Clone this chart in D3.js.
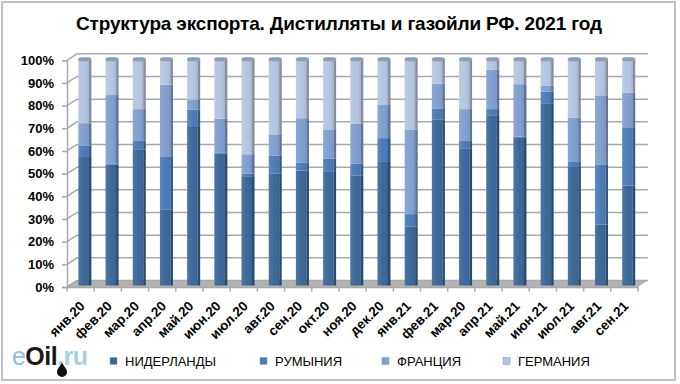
<!doctype html>
<html lang="ru">
<head>
    <title>Структура экспорта</title>
    <meta charset="utf-8"/>
    <script src="https://d3js.org/d3.v7.min.js"></script>
    <style>
        body { margin: 0; padding: 0; background: #fff; }
        svg { display: block; font-family: 'Liberation Sans', sans-serif; }
    </style>
</head>
<body>
<script>
    // подпись 'мар.20' повторяется (так на оригинале), поэтому шкала идёт по индексам
    const months = ['янв.20', 'фев.20', 'мар.20', 'апр.20', 'май.20', 'июн.20', 'июл.20', 'авг.20', 'сен.20', 'окт.20', 'ноя.20',
        'дек.20', 'янв.21', 'фев.21', 'мар.20', 'апр.21', 'май.21', 'июн.21', 'июл.21', 'авг.21', 'сен.21']
    const countries = ['НИДЕРЛАНДЫ', 'РУМЫНИЯ', 'ФРАНЦИЯ', 'ГЕРМАНИЯ']
    const colors = ['#3a6698', '#4a7ab7', '#7f9fcf', '#b5c4e0']
    const yTicks = [0, 10, 20, 30, 40, 50, 60, 70, 80, 90, 100]

    // доли по странам, %
    const netherlands = [56.7, 53.3, 60.1, 33.6, 70.3, 58.2, 47.9, 49.3, 50.7, 50.1, 48.4, 54.5, 25.9, 73.3, 60.3, 75.1, 65.4, 80.4, 52.3, 26.8, 44.1]
    const romania = [4.9, 0.5, 3.9, 23.1, 7.3, 0.3, 1.5, 7.9, 3.6, 5.9, 5.4, 10.5, 5.6, 4.6, 3.7, 2.7, 0.2, 5.1, 2.5, 26.4, 25.4]
    const france = [10, 30.2, 13.8, 31.9, 4.4, 15.1, 8.5, 9.5, 19.5, 12.6, 17.5, 14.6, 37.3, 11.1, 13.8, 17.4, 23.2, 2.7, 19.2, 30.7, 15.6]
    const germany = [28.4, 16, 22.2, 11.4, 18, 26.4, 42.1, 33.3, 26.2, 31.4, 28.7, 20.4, 31.2, 11, 22.2, 4.8, 11.2, 11.8, 26, 16.1, 14.9]

    const width = 680, height = 384
    const depthX = 10, depthY = 6.5   // сдвиг задней стенки

    const svg = d3.select('body').append('svg')
        .attr('width', width)
        .attr('height', height)

    // рамка
    svg.append('rect')
        .attr('x', 2).attr('y', 2)
        .attr('width', 673).attr('height', 378)
        .attr('fill', '#fff')
        .attr('stroke', '#bfbfbf')
        .attr('stroke-width', 2)

    svg.append('text')
        .attr('x', 339).attr('y', 30)
        .attr('text-anchor', 'middle')
        .attr('font-size', 19)
        .attr('font-weight', 'bold')
        .attr('textLength', 526)
        .text('Структура экспорта. Дистилляты и газойли РФ. 2021 год')

    const x = d3.scaleBand().domain(d3.range(months.length)).range([67, 638])
    const y = d3.scaleLinear().domain([0, 100]).range([287, 60.3])

    // пол и сетка
    const floor = d3.path()
    floor.moveTo(x.range()[0], y(0))
    floor.lineTo(x.range()[0] + depthX, y(0) - depthY)
    floor.lineTo(x.range()[1] + depthX, y(0) - depthY)
    floor.lineTo(x.range()[1], y(0))
    floor.closePath()
    svg.append('path').attr('d', floor).attr('fill', '#b3b3b3')

    svg.append('g').selectAll('path')
        .data(yTicks)
        .join('path')
        .attr('fill', 'none')
        .attr('stroke', '#a9a9a9')
        .attr('stroke-width', 1.5)
        .attr('d', d => {
            const p = d3.path()
            p.moveTo(x.range()[0], y(d))
            p.lineTo(x.range()[0] + depthX, y(d) - depthY)
            p.lineTo(x.range()[1] + depthX, y(d) - depthY)
            return p
        })

    // градиент передней грани столбика
    const grad = svg.append('defs').append('linearGradient').attr('id', 'shine')
    grad.append('stop').attr('offset', '0%').attr('stop-color', '#fff').attr('stop-opacity', 0.1)
    grad.append('stop').attr('offset', '60%').attr('stop-color', '#fff').attr('stop-opacity', 0)
    grad.append('stop').attr('offset', '100%').attr('stop-color', '#000').attr('stop-opacity', 0.1)

    const rows = months.map((m, i) => ({
        index: i,
        [countries[0]]: netherlands[i],
        [countries[1]]: romania[i],
        [countries[2]]: france[i],
        [countries[3]]: germany[i]
    }))
    const stack = d3.stack().keys(countries)(rows)

    const barW = 13, sideW = 2.5
    const barLeft = i => x(i) + x.bandwidth() / 2 - barW / 2 + 4.3
    const barShift = -1.5

    const layers = svg.append('g').selectAll('g')
        .data(stack)
        .join('g')

    layers.selectAll('rect.front')
        .data(d => d)
        .join('rect')
        .attr('class', 'front')
        .attr('x', d => barLeft(d.data.index))
        .attr('y', d => y(d[1]) + barShift)
        .attr('width', barW - sideW)
        .attr('height', d => y(d[0]) - y(d[1]))
        .attr('fill', function () { return colors[countries.indexOf(d3.select(this.parentNode).datum().key)] })

    layers.selectAll('rect.shine')
        .data(d => d)
        .join('rect')
        .attr('class', 'shine')
        .attr('x', d => barLeft(d.data.index))
        .attr('y', d => y(d[1]) + barShift)
        .attr('width', barW - sideW)
        .attr('height', d => y(d[0]) - y(d[1]))
        .attr('fill', 'url(#shine)')

    layers.selectAll('rect.side')
        .data(d => d)
        .join('rect')
        .attr('class', 'side')
        .attr('x', d => barLeft(d.data.index) + barW - sideW)
        .attr('y', d => y(d[1]) + barShift)
        .attr('width', sideW)
        .attr('height', d => y(d[0]) - y(d[1]))
        .attr('fill', function () { return d3.color(colors[countries.indexOf(d3.select(this.parentNode).datum().key)]).darker(0.9) })

    // скруглённый верх столбика
    svg.append('g').selectAll('rect')
        .data(months)
        .join('rect')
        .attr('x', (d, i) => barLeft(i))
        .attr('y', y(100) + barShift - 1.5)
        .attr('width', barW)
        .attr('height', 4)
        .attr('rx', 3)
        .attr('fill', '#8e9cb8')

    // оси
    const axisY = svg.append('g')
        .attr('transform', `translate(${x.range()[0]},0)`)
        .call(d3.axisLeft(y).tickValues(yTicks).tickFormat(d => d + '%').tickSize(5).tickPadding(8))
    axisY.selectAll('text')
        .attr('font-size', 13).attr('font-weight', 'bold').attr('font-family', 'Liberation Sans').attr('fill', '#000')

    const axisX = svg.append('g')
        .attr('transform', `translate(0,${y(0)})`)
        .call(d3.axisBottom(x).tickSize(0).tickFormat(''))
    axisX.selectAll('.tick').remove()
    axisX.append('g').selectAll('line')
        .data(d3.range(months.length + 1))
        .join('line')
        .attr('x1', i => x.range()[0] + i * x.step())
        .attr('x2', i => x.range()[0] + i * x.step())
        .attr('y1', 0)
        .attr('y2', 4.5)
        .attr('stroke', '#a9a9a9')
        .attr('stroke-width', 1.5)

    svg.selectAll('.domain').attr('stroke', '#a9a9a9').attr('stroke-width', 1.5)
    axisY.selectAll('.tick line').attr('stroke', '#a9a9a9').attr('stroke-width', 1.5)

    svg.append('g').selectAll('text')
        .data(months)
        .join('text')
        .attr('text-anchor', 'end')
        .attr('font-size', 13.5)
        .attr('font-weight', 'bold')
        .attr('transform', (d, i) => `translate(${x(i) + x.bandwidth() / 2 + 5},${y(0) + 20}) rotate(-45)`)
        .text(d => d)

    // легенда
    const legendX = d3.scaleOrdinal().domain(countries).range([110, 260, 382, 503])
    const legend = svg.append('g').selectAll('g')
        .data(countries)
        .join('g')
        .attr('transform', d => `translate(${legendX(d)},361)`)
    legend.append('rect')
        .attr('x', 0).attr('y', -3.5)
        .attr('width', 7).attr('height', 7)
        .attr('fill', (d, i) => colors[i])
        .attr('stroke', '#8a9ab5')
        .attr('stroke-width', 0.5)
    legend.append('text')
        .attr('x', 15).attr('y', 5)
        .attr('font-size', 13)
        .text(d => d)

    // логотип
    const logo = svg.append('text')
        .attr('x', 12).attr('y', 365)
        .attr('font-size', 25)
        .attr('font-family', 'Liberation Sans')
        .attr('textLength', 76)
    logo.append('tspan').attr('fill', '#8fc0e4').text('e')
    logo.append('tspan').attr('fill', '#1a1a1a').attr('font-weight', 'bold').text('Oil')
    logo.append('tspan').attr('fill', '#a8cfe6').attr('font-weight', 'bold').text('.ru')
    svg.append('path')
        .attr('d', 'M62 362 C63 366 67 368 67 372 A5 5 0 0 1 57 372 C57 368 61 366 62 362 Z')
        .attr('fill', '#111')
</script>
</body>
</html>
